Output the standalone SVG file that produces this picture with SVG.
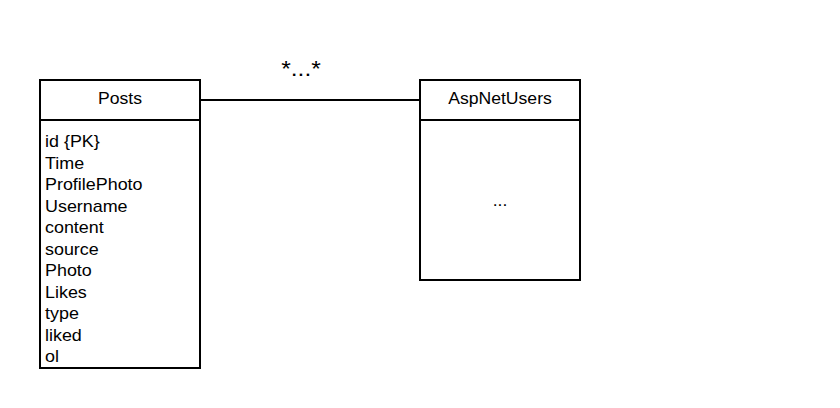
<svg xmlns="http://www.w3.org/2000/svg" width="840" height="408" viewBox="0 0 840 408">
<style>
.box{fill:#fff;stroke:#000;stroke-width:2}
.ln{stroke:#000;stroke-width:2;fill:none}
text{font-family:"Liberation Sans",Arial,sans-serif;font-size:16px;fill:#000}
.c{text-anchor:middle}
</style>
<rect width="840" height="408" fill="#fff"/>
<g id="connectors">
<line class="ln" x1="200" y1="100" x2="420" y2="100"/>
<text class="c" transform="translate(301,75.5) scale(1.12,1)" style="font-size:22px">*...*</text>
</g>
<g id="posts">
<rect class="box" x="40" y="80" width="160" height="288"/>
<line class="ln" x1="40" y1="120" x2="200" y2="120"/>
<text class="c" transform="translate(120,103.5) scale(1.1,1)">Posts</text>
<g transform="translate(45,0.8) scale(1.12,1)">
<text x="0" y="146.5">id {PK}</text>
<text x="0" y="168">Time</text>
<text x="0" y="189.5">ProfilePhoto</text>
<text x="0" y="211">Username</text>
<text x="0" y="232.5">content</text>
<text x="0" y="254">source</text>
<text x="0" y="275.5">Photo</text>
<text x="0" y="297">Likes</text>
<text x="0" y="318.5">type</text>
<text x="0" y="340">liked</text>
<text x="0" y="361.5">ol</text>
</g>
</g>
<g id="aspnetusers">
<rect class="box" x="420" y="80" width="160" height="200"/>
<line class="ln" x1="420" y1="120" x2="580" y2="120"/>
<text class="c" transform="translate(500,103.5) scale(1.1,1)">AspNetUsers</text>
<text class="c" transform="translate(500,206) scale(1.1,1)">...</text>
</g>
</svg>
